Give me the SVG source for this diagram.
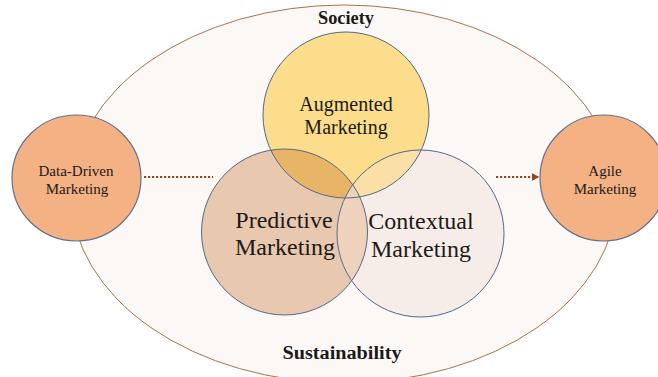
<svg xmlns="http://www.w3.org/2000/svg" width="658" height="377" viewBox="0 0 658 377">
<style>
text{font-family:"Liberation Serif","DejaVu Serif",serif;text-anchor:middle;fill:#1c1a17}
.b{font-weight:700;font-size:18px}
.s{font-size:15px}
.m{font-size:20px}
.l{font-size:24px}
.ring{fill:none;stroke:#55698c;stroke-width:1}
.dot{fill:none;stroke:#8f4a1e;stroke-width:2.200;stroke-dasharray:2.200 1.800}
</style>
<defs>
<clipPath id="ca"><circle cx="346" cy="115" r="83"/></clipPath>
<clipPath id="cp"><circle cx="284.500" cy="232" r="83"/></clipPath>
<marker id="arr" markerWidth="7" markerHeight="10" refX="7" refY="5" orient="auto" markerUnits="userSpaceOnUse"><path d="M0 1L7 5L0 9Z" fill="#8f4a1e"/></marker>
</defs>
<rect width="658" height="377" fill="#fff"/>
<g id="society"><ellipse cx="344" cy="194" rx="273" ry="189" fill="#fbf8f6" stroke="#b0714a" stroke-width="1"/>
<text class="b" x="346" y="24" textLength="56" lengthAdjust="spacingAndGlyphs">Society</text>
<text class="b" x="342" y="359" textLength="119" lengthAdjust="spacingAndGlyphs">Sustainability</text></g>
<g id="connectors">
<path class="dot" d="M144 177H213"/>
<path class="dot" d="M496 177H539" marker-end="url(#arr)"/>
</g>
<g id="predictive"><circle cx="284.500" cy="232" r="83" fill="#e8c8ae"/></g>
<g id="contextual"><circle cx="420.500" cy="233.500" r="83.500" fill="#f6ede8"/></g>
<g id="augmented"><circle cx="346" cy="115" r="83" fill="#fbdd8b"/></g>
<g id="overlaps">
<circle cx="284.500" cy="232" r="83" fill="#e8b465" clip-path="url(#ca)"/>
<circle cx="420.500" cy="233.500" r="83.500" fill="#fadfa6" clip-path="url(#ca)"/>
<circle cx="420.500" cy="233.500" r="83.500" fill="#efd2bb" clip-path="url(#cp)"/>
<circle class="ring" cx="284.500" cy="232" r="83"/>
<circle class="ring" cx="420.500" cy="233.500" r="83.500"/>
<circle class="ring" cx="346" cy="115" r="83"/>
</g>
<g id="labels">
<text class="m" x="346" y="111">Augmented</text>
<text class="m" x="346" y="134">Marketing</text>
<text class="l" x="284" y="228">Predictive</text>
<text class="l" x="285" y="255">Marketing</text>
<text class="l" x="421" y="229">Contextual</text>
<text class="l" x="421" y="257">Marketing</text>
</g>
<g id="data-driven"><ellipse cx="76.500" cy="178" rx="64.500" ry="63" fill="#f4b184" stroke="#66708a" stroke-width="1.200"/>
<text class="s" x="76" y="176">Data-Driven</text>
<text class="s" x="77" y="194">Marketing</text></g>
<g id="agile"><ellipse cx="603.500" cy="178" rx="63.500" ry="63" fill="#f4b184" stroke="#66708a" stroke-width="1.200"/>
<text class="s" x="605" y="176">Agile</text>
<text class="s" x="605" y="194">Marketing</text></g>
</svg>
